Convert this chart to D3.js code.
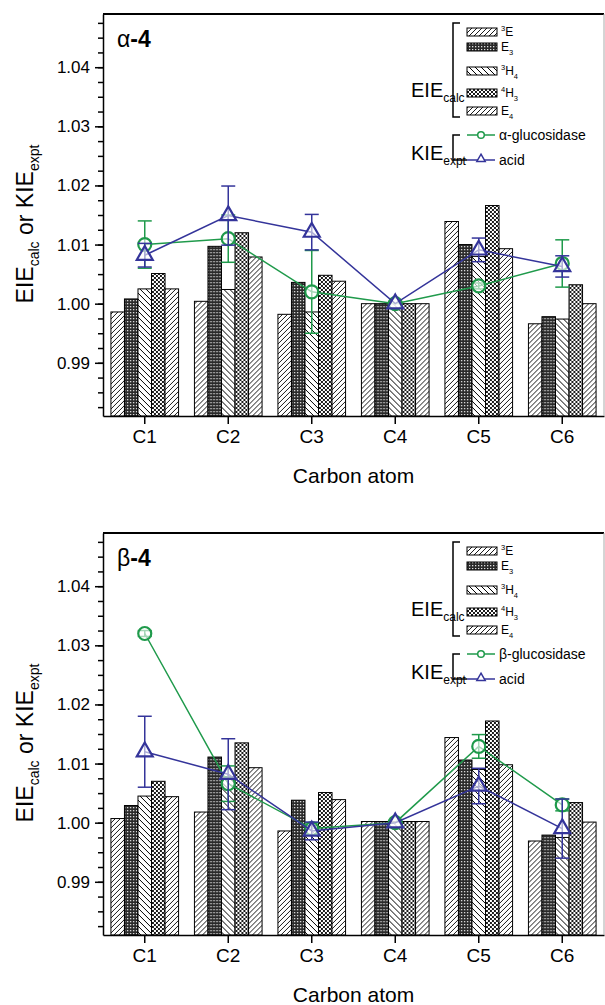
<!DOCTYPE html>
<html>
<head>
<meta charset="utf-8">
<script src="https://cdn.jsdelivr.net/npm/d3@7"></script>
<style>
body { margin: 0; background: #fff; }
svg { display: block; font-family: Arial, "Liberation Sans", sans-serif; }
.axis path, .axis line { stroke: #000; stroke-width: 1.5; }
.axis text { fill: #000; }
</style>
</head>
<body>
<svg id="chart" width="605" height="1005"></svg>
<script>
(function(){

	// categories
	var atoms = ["C1", "C2", "C3", "C4", "C5", "C6"];
	var conformers = ["3E", "E3", "3H4", "4H3", "E4"];

	// alpha-4, EIE calc per conformer (C1..C6)
	var alpha_3E  = [0.9986, 1.0004, 0.9982, 1.0000, 1.0139, 0.9966];
	var alpha_E3  = [1.0008, 1.0097, 1.0036, 1.0000, 1.0100, 0.9978];
	var alpha_3H4 = [1.0025, 1.0024, 0.9986, 1.0000, 1.0080, 0.9974];
	var alpha_4H3 = [1.0051, 1.0120, 1.0048, 1.0000, 1.0166, 1.0032];
	var alpha_E4  = [1.0025, 1.0079, 1.0038, 1.0000, 1.0093, 1.0000];

	// alpha-4, KIE expt
	var alpha_gluc     = [1.0100, 1.0110, 1.0020, 1.0000, 1.0030, 1.0068];
	var alpha_gluc_err = [0.0040, 0.0040, 0.0070, 0.0000, 0.0005, 0.0040];
	var alpha_acid     = [1.0082, 1.0149, 1.0121, 1.0000, 1.0091, 1.0063];
	var alpha_acid_err = [0.0020, 0.0050, 0.0030, 0.0000, 0.0020, 0.0018];

	// beta-4, EIE calc per conformer
	var beta_3E  = [1.0007, 1.0018, 0.9986, 1.0002, 1.0144, 0.9969];
	var beta_E3  = [1.0029, 1.0111, 1.0038, 1.0002, 1.0106, 0.9979];
	var beta_3H4 = [1.0045, 1.0078, 0.9995, 1.0002, 1.0090, 0.9975];
	var beta_4H3 = [1.0070, 1.0135, 1.0051, 1.0002, 1.0172, 1.0034];
	var beta_E4  = [1.0044, 1.0093, 1.0039, 1.0002, 1.0098, 1.0001];

	// beta-4, KIE expt
	var beta_gluc     = [1.0320, 1.0066, 0.9990, 1.0000, 1.0129, 1.0030];
	var beta_gluc_err = [0.0005, 0.0030, 0.0010, 0.0000, 0.0020, 0.0010];
	var beta_acid     = [1.0120, 1.0082, 0.9986, 1.0000, 1.0062, 0.9990];
	var beta_acid_err = [0.0060, 0.0060, 0.0015, 0.0000, 0.0030, 0.0050];

	// tick labels
	var yMajor = [0.99, 1.00, 1.01, 1.02, 1.03, 1.04];
	var yMinor = d3.range(0.9825, 1.049, 0.0025);

	var green = "#1f9a4b";
	var blue = "#34349a";

	var svg = d3.select("#chart");
	var left = 103, width = 501, height = 402;

	var y = d3.scaleLinear().domain([0.981, 1.049]).range([height, 0]);
	var x0 = d3.scaleBand().domain(atoms).range([0, width])
		.paddingInner(0.19).paddingOuter(0.095);
	var x1 = d3.scaleBand().domain(conformers).range([0, x0.bandwidth()]);
	var cx = function(a){ return x0(a) + x0.bandwidth() / 2; };

	make_patterns();

	draw_panel(0, [alpha_3E, alpha_E3, alpha_3H4, alpha_4H3, alpha_E4],
		alpha_gluc, alpha_gluc_err, alpha_acid, alpha_acid_err, "\u03b1", "\u03b1-glucosidase");
	draw_panel(519, [beta_3E, beta_E3, beta_3H4, beta_4H3, beta_E4],
		beta_gluc, beta_gluc_err, beta_acid, beta_acid_err, "\u03b2", "\u03b2-glucosidase");

	function make_patterns(){
		var defs = svg.append("defs");

		var p = defs.append("pattern").attr("id", "p3E")
			.attr("patternUnits", "userSpaceOnUse").attr("width", 5).attr("height", 5);
		p.append("rect").attr("width", 5).attr("height", 5).attr("fill", "#fff");
		p.append("path").attr("d", "M-1,1 L1,-1 M0,5 L5,0 M4,6 L6,4")
			.attr("stroke", "#000").attr("stroke-width", 0.9);

		p = defs.append("pattern").attr("id", "pE3")
			.attr("patternUnits", "userSpaceOnUse").attr("width", 3).attr("height", 3);
		p.append("rect").attr("width", 3).attr("height", 3).attr("fill", "#2a2a2a");
		p.append("rect").attr("x", 1).attr("y", 1).attr("width", 1.3).attr("height", 1.3).attr("fill", "#e0e0e0");

		p = defs.append("pattern").attr("id", "p3H4")
			.attr("patternUnits", "userSpaceOnUse").attr("width", 6).attr("height", 6);
		p.append("rect").attr("width", 6).attr("height", 6).attr("fill", "#fff");
		p.append("path").attr("d", "M-1,5 L1,7 M0,0 L6,6 M5,-1 L7,1")
			.attr("stroke", "#000").attr("stroke-width", 1);

		p = defs.append("pattern").attr("id", "p4H3")
			.attr("patternUnits", "userSpaceOnUse").attr("width", 4).attr("height", 4);
		p.append("rect").attr("width", 4).attr("height", 4).attr("fill", "#fff");
		p.append("path").attr("d", "M0,0 L4,4 M0,4 L4,0")
			.attr("stroke", "#000").attr("stroke-width", 0.9);

		p = defs.append("pattern").attr("id", "pE4")
			.attr("patternUnits", "userSpaceOnUse").attr("width", 5).attr("height", 5);
		p.append("rect").attr("width", 5).attr("height", 5).attr("fill", "#fff");
		p.append("path").attr("d", "M-1,1 L1,-1 M0,5 L5,0 M4,6 L6,4")
			.attr("stroke", "#000").attr("stroke-width", 0.9);
	}

	function fill_for(c){ return "url(#p" + c + ")"; }

	// parts: [text, "sup"|"sub"|null, dy in px]
	function add_label(text, parts, small){
		parts.forEach(function(pt){
			var t = text.append("tspan").text(pt[0]);
			if(pt[1] === "sup" || pt[1] === "sub") t.attr("font-size", small);
			if(pt[2] !== undefined) t.attr("dy", pt[2]);
		});
	}

	function draw_panel(dy, calc, gluc, glucErr, acid, acidErr, greek, enzyme){
		var top = 14 + dy;
		var g = svg.append("g").attr("transform", "translate(" + left + "," + top + ")");

		// bars
		var rows = atoms.map(function(a, i){
			return conformers.map(function(c, j){ return {atom: a, conf: c, v: calc[j][i]}; });
		});

		g.append("g").selectAll("g")
			.data(rows)
			.enter().append("g")
				.attr("transform", function(d){ return "translate(" + x0(d[0].atom) + ",0)"; })
			.selectAll("rect")
			.data(function(d){ return d; })
			.enter().append("rect")
				.attr("x", function(d){ return x1(d.conf); })
				.attr("y", function(d){ return y(d.v); })
				.attr("width", x1.bandwidth())
				.attr("height", function(d){ return height - y(d.v); })
				.attr("fill", function(d){ return fill_for(d.conf); })
				.attr("stroke", "#000")
				.attr("stroke-width", 1);

		// axes
		g.append("g")
			.attr("class", "axis")
			.attr("transform", "translate(0," + height + ")")
			.call(d3.axisBottom(x0).tickSize(8).tickPadding(6).tickSizeOuter(0))
			.selectAll("text").attr("font-size", 19);

		g.append("g")
			.attr("class", "axis")
			.call(d3.axisLeft(y).tickValues(yMinor).tickSize(5).tickFormat("").tickSizeOuter(0))
			.select(".domain").remove();

		g.append("g")
			.attr("class", "axis")
			.call(d3.axisLeft(y).tickValues(yMajor).tickFormat(d3.format(".2f"))
				.tickSize(8).tickPadding(5).tickSizeOuter(0))
			.selectAll("text").attr("font-size", 17);

		// frame
		g.append("line").attr("x1", 0).attr("x2", width).attr("y1", 0).attr("y2", 0)
			.attr("stroke", "#000").attr("stroke-width", 1.8);
		g.append("line").attr("x1", width).attr("x2", width).attr("y1", 0).attr("y2", height)
			.attr("stroke", "#aaa").attr("stroke-width", 1);

		// series: line, error bars, markers
		var series = [
			{vals: gluc, err: glucErr, color: green, shape: "circle"},
			{vals: acid, err: acidErr, color: blue, shape: "triangle"}
		];

		series.forEach(function(s){
			var pts = atoms.map(function(a, i){ return {atom: a, v: s.vals[i], e: s.err[i]}; });
			var sg = g.append("g");

			sg.append("path")
				.datum(pts)
				.attr("fill", "none")
				.attr("stroke", s.color)
				.attr("stroke-width", 1.5)
				.attr("d", d3.line().x(function(d){ return cx(d.atom); }).y(function(d){ return y(d.v); }));

			var eb = sg.selectAll(".err")
				.data(pts.filter(function(d){ return d.e > 0; }))
				.enter().append("g");
			eb.append("line")
				.attr("x1", function(d){ return cx(d.atom); })
				.attr("x2", function(d){ return cx(d.atom); })
				.attr("y1", function(d){ return y(d.v + d.e); })
				.attr("y2", function(d){ return y(d.v - d.e); })
				.attr("stroke", s.color).attr("stroke-width", 1.5);
			[1, -1].forEach(function(sign){
				eb.append("line")
					.attr("x1", function(d){ return cx(d.atom) - 7; })
					.attr("x2", function(d){ return cx(d.atom) + 7; })
					.attr("y1", function(d){ return y(d.v + sign * d.e); })
					.attr("y2", function(d){ return y(d.v + sign * d.e); })
					.attr("stroke", s.color).attr("stroke-width", 1.5);
			});

			if(s.shape === "circle"){
				sg.selectAll(".mk").data(pts).enter().append("circle")
					.attr("cx", function(d){ return cx(d.atom); })
					.attr("cy", function(d){ return y(d.v); })
					.attr("r", 6.5)
					.attr("fill", "#fff").attr("fill-opacity", 0.6)
					.attr("stroke", s.color).attr("stroke-width", 2.2);
			}
			else{
				sg.selectAll(".mk").data(pts).enter().append("path")
					.attr("transform", function(d){ return "translate(" + cx(d.atom) + "," + y(d.v) + ")"; })
					.attr("d", d3.symbol(d3.symbolTriangle).size(110))
					.attr("fill", "#fff").attr("fill-opacity", 0.6)
					.attr("stroke", s.color).attr("stroke-width", 2.2);
			}
		});

		// axis titles
		svg.append("text")
			.attr("x", left + width / 2)
			.attr("y", 483 + dy)
			.attr("text-anchor", "middle")
			.attr("font-size", 21)
			.text("Carbon atom");

		var yt = svg.append("text")
			.attr("transform", "translate(33," + (224 + dy) + ") rotate(-90)")
			.attr("text-anchor", "middle")
			.attr("font-size", 23);
		add_label(yt, [["EIE"], ["calc", "sub", 6], [" or ", null, -6], ["KIE"], ["expt", "sub", 6]], 14);

		// panel label
		var pl = svg.append("text").attr("x", 117).attr("y", 47 + dy).attr("font-size", 23);
		pl.append("tspan").text(greek);
		pl.append("tspan").attr("font-weight", "bold").text("-4");

		// legend
		var lg = svg.append("g").attr("transform", "translate(0," + dy + ")");
		lg.append("path").attr("d", "M460,23 H453 V117 H460")
			.attr("fill", "none").attr("stroke", "#000").attr("stroke-width", 1.5);
		lg.append("path").attr("d", "M460,135 H453 V160 H467")
			.attr("fill", "none").attr("stroke", "#000").attr("stroke-width", 1.5);

		var eie = lg.append("text").attr("x", 411).attr("y", 97).attr("font-size", 20);
		add_label(eie, [["EIE"], ["calc", "sub", 5]], 12);
		var kie = lg.append("text").attr("x", 411).attr("y", 160).attr("font-size", 20);
		add_label(kie, [["KIE"], ["expt", "sub", 5]], 12);

		var swY = [32, 47, 71, 93, 111];
		var swText = [
			[["3", "sup", -5], ["E", null, 5]],
			[["E"], ["3", "sub", 4]],
			[["3", "sup", -5], ["H", null, 5], ["4", "sub", 4]],
			[["4", "sup", -5], ["H", null, 5], ["3", "sub", 4]],
			[["E"], ["4", "sub", 4]]
		];
		conformers.forEach(function(c, i){
			lg.append("rect")
				.attr("x", 467).attr("y", swY[i] - 4)
				.attr("width", 30).attr("height", 8)
				.attr("fill", fill_for(c))
				.attr("stroke", "#000").attr("stroke-width", 1);
			var t = lg.append("text").attr("x", 501).attr("y", swY[i] + 4).attr("font-size", 12);
			add_label(t, swText[i], 7.5);
		});

		lg.append("line").attr("x1", 467).attr("x2", 495).attr("y1", 135).attr("y2", 135)
			.attr("stroke", green).attr("stroke-width", 1.5);
		lg.append("circle").attr("cx", 481).attr("cy", 135).attr("r", 3.3)
			.attr("fill", "#fff").attr("stroke", green).attr("stroke-width", 1.5);
		lg.append("text").attr("x", 499).attr("y", 140).attr("font-size", 14).text(enzyme);

		lg.append("line").attr("x1", 467).attr("x2", 495).attr("y1", 160).attr("y2", 160)
			.attr("stroke", blue).attr("stroke-width", 1.5);
		lg.append("path").attr("transform", "translate(481,159)")
			.attr("d", d3.symbol(d3.symbolTriangle).size(30))
			.attr("fill", "#fff").attr("stroke", blue).attr("stroke-width", 1.5);
		lg.append("text").attr("x", 499).attr("y", 165).attr("font-size", 14).text("acid");
	}

})();
</script>
</body>
</html>
